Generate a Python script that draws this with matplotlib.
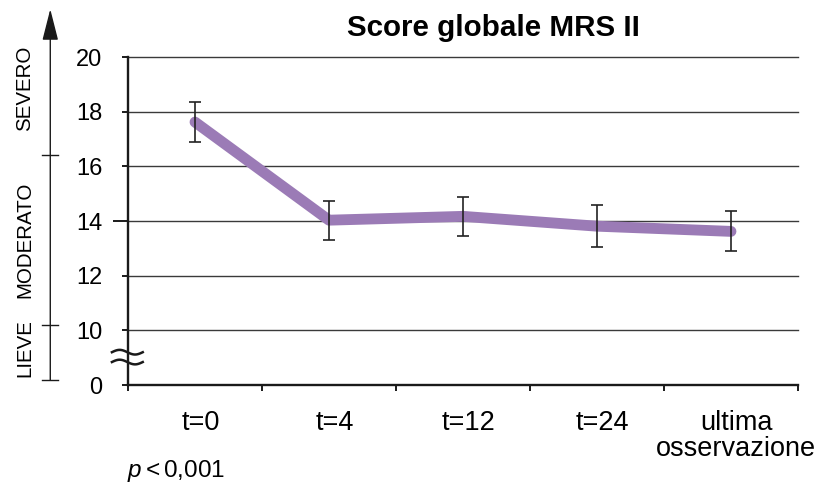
import numpy as np
import matplotlib
matplotlib.use("Agg")
import matplotlib.pyplot as plt
import matplotlib.transforms as mtransforms

plt.rcParams['font.family'] = ['Liberation Sans', 'DejaVu Sans']
plt.rcParams['mathtext.fontset'] = 'custom'
plt.rcParams['mathtext.rm'] = 'Liberation Sans'
plt.rcParams['mathtext.it'] = 'Liberation Sans:italic'

# Data
timepoints = ["t=0", "t=4", "t=12", "t=24", "ultima\nosservazione"]
mean_score = [17.62, 14.03, 14.17, 13.81, 13.62]
err_score = [0.74, 0.72, 0.72, 0.77, 0.73]

# Broken y axis: the bottom of the axis stands for 0, gridded range 10-20
y_axis_floor = 8
y_ticks = [8, 10, 12, 14, 16, 18, 20]
y_ticklabels = ["0", "10", "12", "14", "16", "18", "20"]
grid_levels = [10, 12, 14, 16, 18, 20]

# Severity bands shown on the left arrow axis
band_bounds = [10.2, 16.4]
band_labels = ["LIEVE", "MODERATO", "SEVERO"]
band_label_y = [9.35, 13.3, 18.87]

line_color = "#9b7bb6"

fig = plt.figure(figsize=(8.21, 4.88), dpi=100)
ax = fig.add_axes([128 / 821, 1 - 385 / 488, 670 / 821, 328 / 488])

x = np.arange(len(timepoints))
ax.set_xlim(-0.5, len(timepoints) - 0.5)
ax.set_ylim(y_axis_floor, 20)

for g in grid_levels:
    ax.axhline(g, color="#3a3a3a", lw=1.0, zorder=1, clip_on=False)

ax.plot(x, mean_score, color=line_color, lw=7.8, solid_capstyle="round",
        solid_joinstyle="round", zorder=2)
ax.errorbar(x, mean_score, yerr=err_score, fmt="none", ecolor="#222222",
            elinewidth=1.2, capsize=4.2, capthick=1.2, zorder=3)

for side in ("top", "right"):
    ax.spines[side].set_visible(False)
for side in ("left", "bottom"):
    ax.spines[side].set_linewidth(1.7)
    ax.spines[side].set_color("#1a1a1a")

# x axis: ticks sit at category boundaries, labels at category centres
ax.set_xticks(np.arange(len(timepoints) + 1) - 0.5)
ax.set_xticklabels([])
ax.set_xticks(x + 0.04, minor=True)
ax.set_xticklabels(timepoints, minor=True, fontsize=19.5, linespacing=1.0,
                   va="top")
ax.tick_params(axis="x", which="major", direction="out", length=4.5,
               width=1.4, color="#1a1a1a")
ax.tick_params(axis="x", which="minor", length=0, pad=18)

ax.set_yticks(y_ticks)
ax.set_yticklabels(y_ticklabels, fontsize=17)
ax.tick_params(axis="y", direction="out", length=4, width=1.4,
               color="#1a1a1a", pad=14.5)
# the 14 tick is drawn longer
ax.yaxis.get_major_ticks()[y_ticks.index(14)].tick1line.set_markersize(11)

ax.set_title("Score globale MRS II", fontsize=21.3, fontweight="bold",
             x=0.545, pad=15)

# break marks on the y axis between 0 and 10
trans_break = mtransforms.blended_transform_factory(ax.transAxes, ax.transData)
tt = np.linspace(0, 1, 60)
for y0 in (9.2, 8.84):
    ax.plot(-0.024 + 0.046 * tt, y0 + 0.085 * np.sin(2 * np.pi * tt),
            transform=trans_break, color="#1a1a1a", lw=1.8,
            clip_on=False, zorder=4)

# left arrow axis with severity bands
arrow_x = -0.116
ax.annotate("", xy=(arrow_x, 21.75), xytext=(arrow_x, 8.18),
            xycoords=trans_break, textcoords=trans_break,
            arrowprops=dict(arrowstyle="-|>,head_length=1.3,head_width=0.33",
                            mutation_scale=15, lw=1.0, color="#1a1a1a",
                            shrinkA=0, shrinkB=0),
            annotation_clip=False)
for yb in [8.18] + band_bounds:
    ax.plot([arrow_x - 0.012, arrow_x + 0.012], [yb, yb],
            transform=trans_break, color="#1a1a1a", lw=1.0, clip_on=False)
for lbl, yl in zip(band_labels, band_label_y):
    ax.text(-0.154, yl, lbl, transform=trans_break, rotation=90,
            ha="center", va="center", fontsize=14.8)

fig.text(176 / 821, 1 - 471 / 488, r"$p < 0{,}001$", fontsize=17.5,
         ha="center", va="center")

fig.savefig("out.png", dpi=100)
